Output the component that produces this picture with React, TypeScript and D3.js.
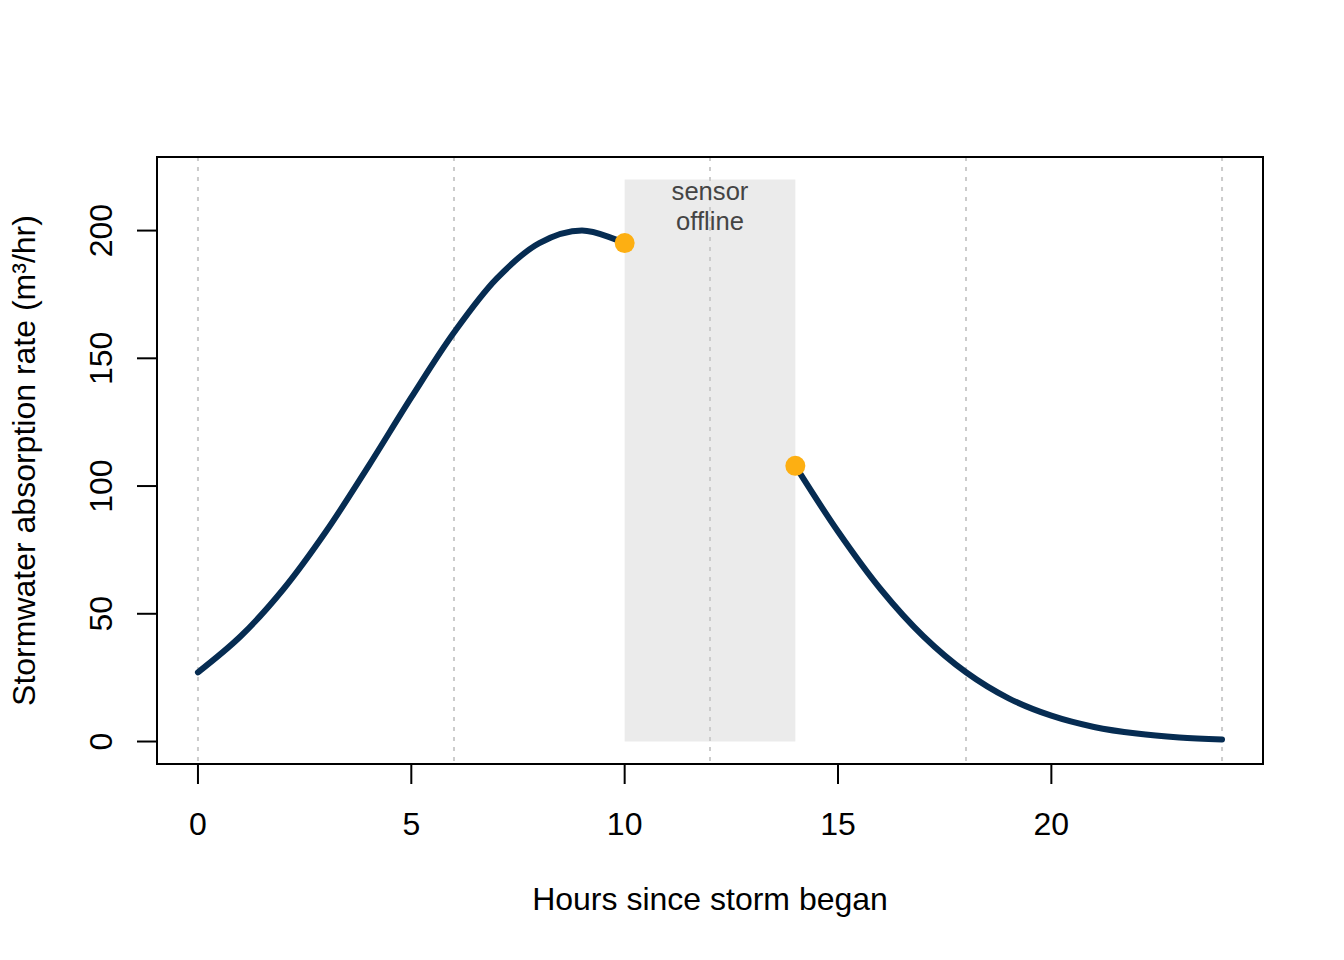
import React from "react";
import * as d3 from "d3";

// Data
const hoursBefore = [0, 1, 2, 3, 4, 5, 6, 7, 8, 9, 10];
const rateBefore = [27.1, 41.2, 59.6, 82.2, 107.9, 134.7, 160.1, 181.2, 195.1, 200, 195.1];
const hoursAfter = [14, 15, 16, 17, 18, 19, 20, 21, 22, 23, 24];
const rateAfter = [107.9, 82.2, 59.6, 41.2, 27.1, 16.9, 10.1, 5.7, 3.1, 1.6, 0.8];
const xTicks = [0, 5, 10, 15, 20];
const yTicks = [0, 50, 100, 150, 200];
const gridX = [0, 6, 12, 18, 24];
const offlineStart = 10;
const offlineEnd = 14;
const offlineTop = 220;
const gapPoints = [
  { x: 10, y: 195.1 },
  { x: 14, y: 107.9 },
];

const W = 1344;
const H = 960;
const left = 157, right = 1263, top = 157, bottom = 764;
const FONT = "'Liberation Sans', Arial, Helvetica, sans-serif";

export default function App() {
  const x = d3.scaleLinear().domain([-0.96, 24.96]).range([left, right]);
  const y = d3.scaleLinear().domain([-8.8, 228.8]).range([bottom, top]);
  const line = d3
    .line<[number, number]>()
    .x((d) => x(d[0]))
    .y((d) => y(d[1]))
    .curve(d3.curveCatmullRom.alpha(0.5));
  const before = hoursBefore.map((h, i) => [h, rateBefore[i]] as [number, number]);
  const after = hoursAfter.map((h, i) => [h, rateAfter[i]] as [number, number]);
  const lineColor = "#062C52";

  return (
    <>
      <style>{`body{margin:0}`}</style>
      <svg width={W} height={H} style={{ display: "block", background: "#fff" }} fontFamily={FONT}>
        {/* shaded offline region */}
        <rect
          x={x(offlineStart)}
          y={y(offlineTop)}
          width={x(offlineEnd) - x(offlineStart)}
          height={y(0) - y(offlineTop)}
          fill="#EBEBEB"
        />
        {/* grid */}
        {gridX.map((g) => (
          <line
            key={g}
            x1={x(g)}
            x2={x(g)}
            y1={top}
            y2={bottom}
            stroke="#CCCCCC"
            strokeWidth={2}
            strokeDasharray="4,6"
          />
        ))}
        <text x={x(12)} y={200} textAnchor="middle" fontSize={25.6} fill="#444">
          sensor
        </text>
        <text x={x(12)} y={230} textAnchor="middle" fontSize={25.6} fill="#444">
          offline
        </text>
        {/* curve */}
        <path d={line(before) || ""} fill="none" stroke={lineColor} strokeWidth={6} strokeLinecap="round" />
        <path d={line(after) || ""} fill="none" stroke={lineColor} strokeWidth={6} strokeLinecap="round" />
        {gapPoints.map((p, i) => (
          <circle key={i} cx={x(p.x)} cy={y(p.y)} r={10} fill="#FDAF12" />
        ))}
        {/* box */}
        <rect x={left} y={top} width={right - left} height={bottom - top} fill="none" stroke="#000" strokeWidth={2} />
        {/* x axis */}
        <line x1={x(xTicks[0])} x2={x(xTicks[xTicks.length - 1])} y1={bottom} y2={bottom} stroke="#000" strokeWidth={2} />
        {xTicks.map((t) => (
          <g key={t}>
            <line x1={x(t)} x2={x(t)} y1={bottom} y2={bottom + 20} stroke="#000" strokeWidth={2} />
            <text x={x(t)} y={835} textAnchor="middle" fontSize={32} fill="#000">
              {t}
            </text>
          </g>
        ))}
        {/* y axis */}
        <line x1={left} x2={left} y1={y(yTicks[0])} y2={y(yTicks[yTicks.length - 1])} stroke="#000" strokeWidth={2} />
        {yTicks.map((t) => (
          <g key={t}>
            <line x1={left} x2={left - 20} y1={y(t)} y2={y(t)} stroke="#000" strokeWidth={2} />
            <text
              transform={`translate(112,${y(t)}) rotate(-90)`}
              textAnchor="middle"
              fontSize={32}
              fill="#000"
            >
              {t}
            </text>
          </g>
        ))}
        {/* titles */}
        <text x={(left + right) / 2} y={910} textAnchor="middle" fontSize={32} fill="#000">
          Hours since storm began
        </text>
        <text
          transform={`translate(35,${(top + bottom) / 2}) rotate(-90)`}
          textAnchor="middle"
          fontSize={32}
          fill="#000"
        >
          Stormwater absorption rate (m³/hr)
        </text>
      </svg>
    </>
  );
}
